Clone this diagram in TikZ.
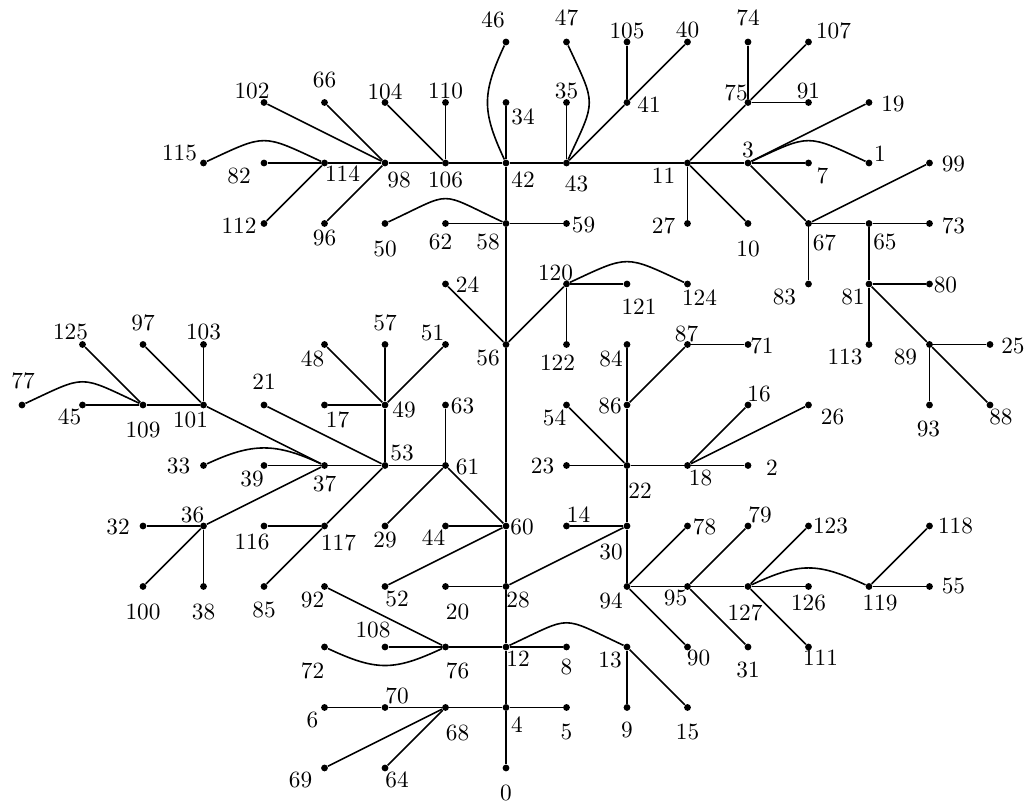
\documentclass[tikz,border=0pt]{standalone}
\usepackage{fontspec}
\tikzset{
  dot/.style={circle,fill=black,inner sep=0pt,minimum size=3.2pt},
  lbl/.style={inner sep=0pt,font=\fontsize{10.95}{13}\selectfont},
  edge/.style={line width=0.75pt},
  curvy/.style={line width=0.75pt,looseness=#1}
}
\newcommand\vtx[5]{\node[dot] (n#1) at (#2,#3) {}; \node[lbl] (l#1) at ({#2+(#4)/60.5},{#3-(#5)/60.5}) {#1};}
\begin{document}
\begin{tikzpicture}[x=1cm,y=1cm]
\useasboundingbox (-8.364,-0.595) rectangle (8.645,12.694);
\vtx{0}{0}{0}{0}{25}
\vtx{1}{6}{10}{11}{-9}
\vtx{2}{4}{5}{24}{2}
\vtx{3}{4}{10}{0}{-13}
\vtx{4}{0}{1}{11}{17}
\vtx{5}{1}{1}{0}{25}
\vtx{6}{-3}{1}{-12}{13}
\vtx{7}{5}{10}{14}{13}
\vtx{8}{1}{2}{0}{20}
\vtx{9}{2}{1}{0}{23}
\vtx{10}{4}{9}{0}{26}
\vtx{11}{3}{10}{-24}{13}
\vtx{12}{0}{2}{12}{12}
\vtx{13}{2}{2}{-17}{13}
\vtx{14}{1}{4}{12}{-11}
\vtx{15}{3}{1}{0}{25}
\vtx{16}{4}{6}{11}{-11}
\vtx{17}{-3}{6}{13}{15}
\vtx{18}{3}{5}{13}{13}
\vtx{19}{6}{11}{24}{2}
\vtx{20}{-1}{3}{12}{26}
\vtx{21}{-4}{6}{0}{-23}
\vtx{22}{2}{5}{13}{25}
\vtx{23}{1}{5}{-24}{1}
\vtx{24}{-1}{8}{22}{1}
\vtx{25}{8}{7}{23}{2}
\vtx{26}{5}{6}{24}{12}
\vtx{27}{3}{9}{-24}{2}
\vtx{28}{0}{3}{12}{14}
\vtx{29}{-2}{4}{0}{14}
\vtx{30}{2}{4}{-16}{26}
\vtx{31}{4}{2}{0}{23}
\vtx{32}{-6}{4}{-25}{1}
\vtx{33}{-5}{5}{-25}{1}
\vtx{34}{0}{11}{17}{14}
\vtx{35}{1}{11}{0}{-11}
\vtx{36}{-5}{4}{-11}{-11}
\vtx{37}{-3}{5}{0}{18}
\vtx{38}{-5}{3}{0}{26}
\vtx{39}{-4}{5}{-12}{14}
\vtx{40}{3}{12}{0}{-12}
\vtx{41}{2}{11}{22}{2}
\vtx{42}{0}{10}{17}{17}
\vtx{43}{1}{10}{10}{21}
\vtx{44}{-1}{4}{-12}{12}
\vtx{45}{-7}{6}{-13}{12}
\vtx{46}{0}{12}{-13}{-22}
\vtx{47}{1}{12}{0}{-24}
\vtx{48}{-3}{7}{-12}{14}
\vtx{49}{-2}{6}{19}{5}
\vtx{50}{-2}{9}{0}{26}
\vtx{51}{-1}{7}{-13}{-11}
\vtx{52}{-2}{3}{12}{13}
\vtx{53}{-2}{5}{17}{-12}
\vtx{54}{1}{6}{-12}{13}
\vtx{55}{7}{3}{24}{0}
\vtx{56}{0}{7}{-18}{14}
\vtx{57}{-2}{7}{0}{-22}
\vtx{58}{0}{9}{-18}{19}
\vtx{59}{1}{9}{17}{2}
\vtx{60}{0}{4}{16}{1}
\vtx{61}{-1}{5}{22}{2}
\vtx{62}{-1}{9}{-5}{19}
\vtx{63}{-1}{6}{17}{1}
\vtx{64}{-2}{0}{12}{12}
\vtx{65}{6}{9}{16}{19}
\vtx{66}{-3}{11}{0}{-22}
\vtx{67}{5}{9}{16}{19}
\vtx{68}{-1}{1}{12}{26}
\vtx{69}{-3}{0}{-24}{12}
\vtx{70}{-2}{1}{12}{-12}
\vtx{71}{4}{7}{14}{1}
\vtx{72}{-3}{2}{-12}{24}
\vtx{73}{7}{9}{24}{2}
\vtx{74}{4}{12}{0}{-24}
\vtx{75}{4}{11}{-12}{-10}
\vtx{76}{-1}{2}{12}{24}
\vtx{77}{-8}{6}{1}{-24}
\vtx{78}{3}{4}{17}{1}
\vtx{79}{4}{4}{12}{-11}
\vtx{80}{7}{8}{16}{1}
\vtx{81}{6}{8}{-16}{13}
\vtx{82}{-4}{10}{-25}{13}
\vtx{83}{5}{8}{-24}{13}
\vtx{84}{2}{7}{-16}{14}
\vtx{85}{-4}{3}{0}{24}
\vtx{86}{2}{6}{-17}{1}
\vtx{87}{3}{7}{-1}{-11}
\vtx{88}{8}{6}{11}{12}
\vtx{89}{7}{7}{-24}{13}
\vtx{90}{3}{2}{11}{11}
\vtx{91}{5}{11}{0}{-11}
\vtx{92}{-3}{3}{-12}{14}
\vtx{93}{7}{6}{-1}{24}
\vtx{94}{2}{3}{-16}{14}
\vtx{95}{3}{3}{-12}{12}
\vtx{96}{-3}{9}{0}{15}
\vtx{97}{-6}{7}{0}{-22}
\vtx{98}{-2}{10}{14}{17}
\vtx{99}{7}{10}{24}{1}
\vtx{100}{-6}{3}{0}{26}
\vtx{101}{-5}{6}{-13}{15}
\vtx{102}{-4}{11}{-12}{-11}
\vtx{103}{-5}{7}{0}{-12}
\vtx{104}{-2}{11}{0}{-11}
\vtx{105}{2}{12}{0}{-11}
\vtx{106}{-1}{10}{0}{17}
\vtx{107}{5}{12}{25}{-11}
\vtx{108}{-2}{2}{-12}{-17}
\vtx{109}{-6}{6}{0}{25}
\vtx{110}{-1}{11}{0}{-11}
\vtx{111}{5}{2}{12}{11}
\vtx{112}{-4}{9}{-25}{2}
\vtx{113}{6}{7}{-24}{13}
\vtx{114}{-3}{10}{18}{11}
\vtx{115}{-5}{10}{-24}{-10}
\vtx{116}{-4}{4}{-12}{16}
\vtx{117}{-3}{4}{14}{17}
\vtx{118}{7}{4}{26}{0}
\vtx{119}{6}{3}{11}{17}
\vtx{120}{1}{8}{-11}{-11}
\vtx{121}{2}{8}{12}{23}
\vtx{122}{1}{7}{-9}{18}
\vtx{123}{5}{4}{22}{0}
\vtx{124}{3}{8}{12}{14}
\vtx{125}{-7}{7}{-12}{-12}
\vtx{126}{5}{3}{0}{17}
\vtx{127}{4}{3}{-3}{26}
\foreach \a/\b in {0/4, 4/12, 12/28, 28/60, 60/56, 56/58, 58/42, 42/34,
  4/5, 4/68, 68/70, 70/6, 68/69, 68/64,
  12/8, 12/76, 76/108, 76/92, 13/9, 13/15,
  28/20, 28/30, 30/14, 30/22, 30/94, 94/78, 94/95, 94/90, 95/79, 95/127, 95/31,
  127/123, 127/126, 127/111, 119/118, 119/55,
  60/44, 60/52, 60/61, 61/29, 61/63, 61/53, 53/49, 53/21, 53/37, 53/117,
  117/116, 117/85, 49/17, 49/48, 49/57, 49/51, 37/39, 37/36, 37/101,
  36/32, 36/38, 36/100, 101/103, 101/97, 101/109, 109/125, 109/45,
  22/23, 22/54, 22/86, 22/18, 18/2, 18/16, 18/26, 86/84, 86/87, 87/71,
  56/24, 56/120, 120/122, 120/121, 58/59, 58/62,
  42/106, 106/110, 106/104, 106/98, 98/102, 98/66, 98/96, 98/114, 114/82, 114/112,
  42/43, 43/35, 43/41, 41/105, 41/40, 43/11, 11/27, 11/10, 11/75, 75/74, 75/91, 75/107,
  11/3, 3/7, 3/19, 3/67, 67/83, 67/99, 67/65, 65/73, 65/81, 81/80, 81/113, 81/89,
  89/25, 89/93, 89/88}
  \draw[edge] (n\a) -- (n\b);
\draw[curvy=1.2] (n42) to[bend left=25] (n46);
\draw[curvy=1.5] (n43) to[bend right=25] (n47);
\draw[curvy=1.47] (n115) to[bend left=25] (n114);
\draw[curvy=1.53] (n77) to[bend left=25] (n109);
\draw[curvy=1.13] (n33) to[bend left=25] (n37);
\draw[curvy=1.65] (n50) to[bend left=25] (n58);
\draw[curvy=1.47] (n120) to[bend left=25] (n124);
\draw[curvy=1.47] (n3) to[bend left=25] (n1);
\draw[curvy=1.6] (n12) to[bend left=25] (n13);
\draw[curvy=1.2] (n127) to[bend left=25] (n119);
\draw[curvy=1.2] (n72) to[bend right=25] (n76);
\end{tikzpicture}
\end{document}
